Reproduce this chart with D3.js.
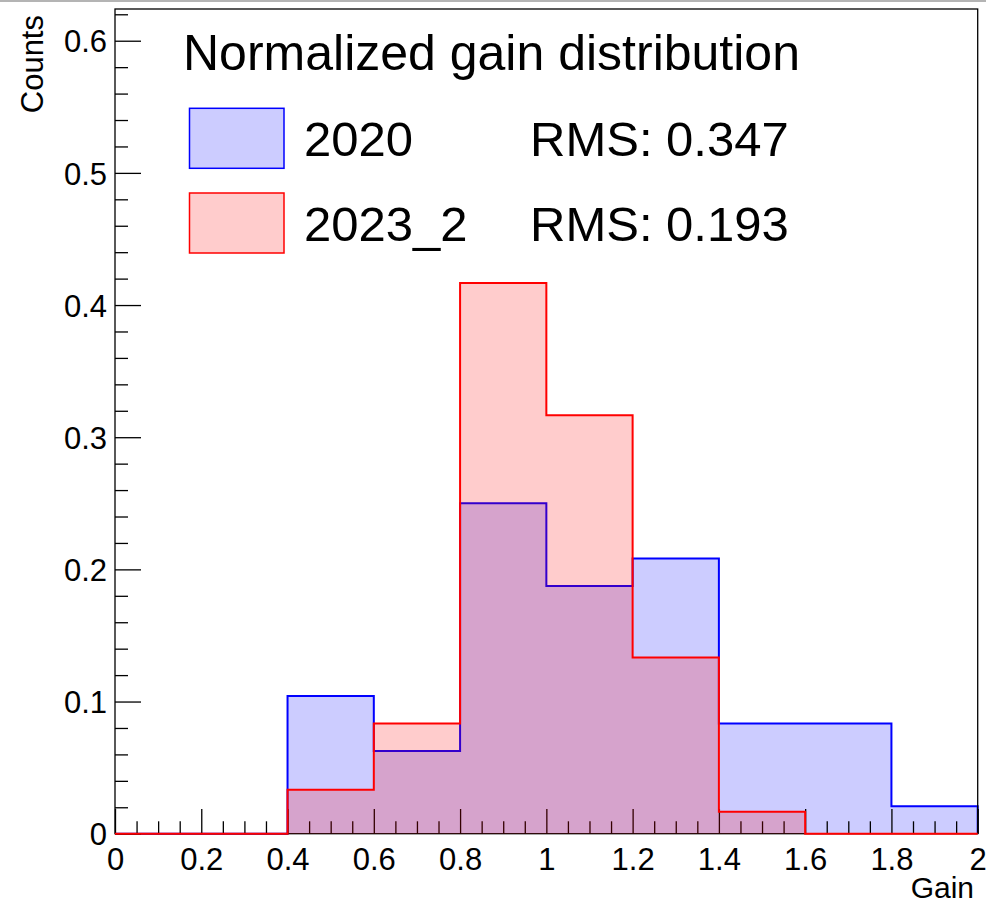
<!DOCTYPE html>
<html>
<head>
<meta charset="utf-8">
<script src="https://cdn.jsdelivr.net/npm/d3@7"></script>
<style>
  body { margin: 0; background: #fff; }
  text { font-family: "Liberation Sans", Arial, Helvetica, sans-serif; fill: #000; }
</style>
</head>
<body>
<div id="container"></div>
<script>
// bin edges of both histograms (10 bins of 0.2 from 0 to 2)
const binEdges = [0, 0.2, 0.4, 0.6, 0.8, 1.0, 1.2, 1.4, 1.6, 1.8, 2.0];
// normalized counts per bin
const counts2020 = [0, 0, 0.1042, 0.0625, 0.25, 0.1875, 0.2083, 0.0833, 0.0833, 0.0208];
const counts2023 = [0, 0, 0.0333, 0.0833, 0.4167, 0.3167, 0.1333, 0.0167, 0, 0];
const seriesNames = ["2020", "2023_2"];
const rmsValues = ["0.347", "0.193"];
const xTickLabels = [0, 0.2, 0.4, 0.6, 0.8, 1, 1.2, 1.4, 1.6, 1.8, 2];
const yTickLabels = [0, 0.1, 0.2, 0.3, 0.4, 0.5, 0.6];
const chartTitle = "Normalized gain distribution";

const widthSVG = 986,
    heightSVG = 907,
    frame = {left: 115, top: 9, right: 977.7, bottom: 833.7};

const x = d3.scaleLinear().domain([0, 2]).range([frame.left, frame.right]);
const y = d3.scaleLinear().domain([0, 0.624]).range([frame.bottom, frame.top]);

const svg = d3
    .select('#container')
    .append('svg')
    .attr('width', widthSVG)
    .attr('height', heightSVG);

// thin grey strip along the top edge of the picture
svg.append('rect')
    .attr('x', 0).attr('y', 0)
    .attr('width', widthSVG).attr('height', 2)
    .attr('fill', '#b4b4b4');

// turn bin contents into a closed step outline
function stepPoints(values) {
    let pts = [[binEdges[0], 0]];
    values.forEach((v, i) => {
        pts.push([binEdges[i], v]);
        pts.push([binEdges[i + 1], v]);
    });
    pts.push([binEdges[binEdges.length - 1], 0]);
    return pts;
}

const line = d3.line().x(d => x(d[0])).y(d => y(d[1]));

function drawHist(values, color) {
    const pts = stepPoints(values);
    svg.append('path')
        .attr('d', line(pts) + 'Z')
        .attr('fill', color)
        .attr('fill-opacity', 0.2)
        .attr('stroke', 'none');
    svg.append('path')
        .attr('d', line(pts))
        .attr('fill', 'none')
        .attr('stroke', color)
        .attr('stroke-width', 2);
}

// first histogram, then axes, then the second one on top (like ROOT "same")
drawHist(counts2020, '#0000ff');

// frame
svg.append('rect')
    .attr('x', frame.left)
    .attr('y', frame.top)
    .attr('width', frame.right - frame.left)
    .attr('height', frame.bottom - frame.top)
    .attr('fill', 'none')
    .attr('stroke', '#000')
    .attr('stroke-width', 1.3);

// ticks point inwards, major and minor
const yMajor = 26, yMinor = 13, xMajor = 24.7, xMinor = 12.4;

const yAxis = d3.axisLeft(y)
    .tickValues(yTickLabels)
    .tickSize(-yMajor)
    .tickPadding(8)
    .tickFormat(d => d3.format('~g')(d));
const gy = svg.append('g')
    .attr('transform', `translate(${frame.left},0)`)
    .call(yAxis);

const yMinorTicks = d3.range(0, 0.621, 0.02).filter(v => Math.abs(v * 10 - Math.round(v * 10)) > 1e-6);
svg.append('g')
    .call(d3.axisLeft(y).tickValues(yMinorTicks).tickSize(-yMinor).tickFormat(''))
    .attr('transform', `translate(${frame.left},0)`);

const xAxis = d3.axisBottom(x)
    .tickValues(xTickLabels)
    .tickSize(-xMajor)
    .tickPadding(14)
    .tickFormat(d => d3.format('~g')(d));
const gx = svg.append('g')
    .attr('transform', `translate(0,${frame.bottom})`)
    .call(xAxis);

const xMinorTicks = d3.range(0, 2.001, 0.05).filter(v => Math.abs(v * 5 - Math.round(v * 5)) > 1e-6);
svg.append('g')
    .call(d3.axisBottom(x).tickValues(xMinorTicks).tickSize(-xMinor).tickFormat(''))
    .attr('transform', `translate(0,${frame.bottom})`);

// ROOT style: no axis domain path, the frame does that job
svg.selectAll('.domain').remove();
svg.selectAll('.tick line').attr('stroke', '#000').attr('stroke-width', 1.3);
svg.selectAll('.tick text')
    .style('font-size', '31px')
    .style('font-family', '"Liberation Sans", Arial, sans-serif');
gy.selectAll('.tick text').attr('dy', '0.36em');
gx.selectAll('.tick text').attr('dy', '0.71em');

drawHist(counts2023, '#ff0000');

// axis titles
svg.append('text')
    .attr('transform', 'translate(42.5,15) rotate(-90)')
    .attr('text-anchor', 'end')
    .style('font-size', '31px')
    .text('Counts');

svg.append('text')
    .attr('x', 974)
    .attr('y', 898)
    .attr('text-anchor', 'end')
    .style('font-size', '30px')
    .text('Gain');

// legend with title row and one row per series
const legend = svg.append('g').attr('id', 'legend');
const legendColors = ['#0000ff', '#ff0000'];
const rowY = [108.3, 193];

legend.append('text')
    .attr('x', 183)
    .attr('y', 69.5)
    .style('font-size', '50px')
    .text(chartTitle);

legend.selectAll('rect')
    .data(seriesNames)
    .enter()
    .append('rect')
    .attr('x', 189.5)
    .attr('y', (d, i) => rowY[i])
    .attr('width', 94.5)
    .attr('height', 60)
    .attr('fill', (d, i) => d3.interpolateRgb('#ffffff', legendColors[i])(0.2))
    .attr('stroke', (d, i) => legendColors[i])
    .attr('stroke-width', 1.5);

legend.selectAll('text.name')
    .data(seriesNames)
    .enter()
    .append('text')
    .attr('class', 'name')
    .attr('x', 304)
    .attr('y', (d, i) => rowY[i] + 48)
    .style('font-size', '49px')
    .text(d => d);

legend.selectAll('text.rms')
    .data(rmsValues)
    .enter()
    .append('text')
    .attr('class', 'rms')
    .attr('x', 530)
    .attr('y', (d, i) => rowY[i] + 47.5)
    .style('font-size', '49px')
    .text(d => `RMS: ${d}`);
</script>
</body>
</html>
